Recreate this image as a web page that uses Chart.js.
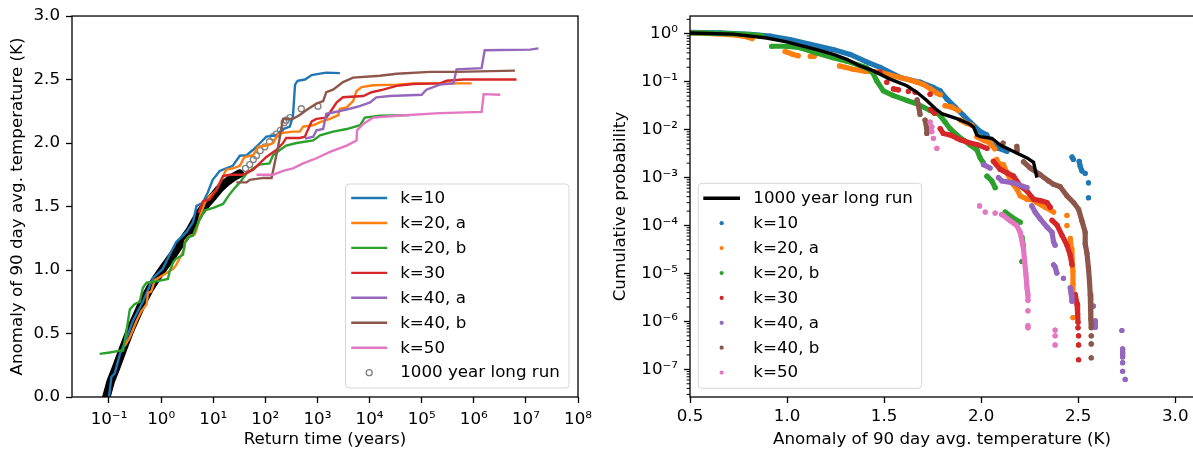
<!DOCTYPE html>
<html>
<head>
<meta charset="utf-8">
<script src="https://cdn.jsdelivr.net/npm/chart.js@4.4.1/dist/chart.umd.min.js"></script>
<style>
  html, body { margin: 0; padding: 0; background: #fff; overflow: hidden; }
  #figure { position: relative; width: 1193px; height: 455px; overflow: hidden; background: #fff; }
  #figure canvas { position: absolute; top: 0; }
  #returnChart { left: 0; }
  #cdfChart { left: 600px; }
</style>
</head>
<body>
<div id="figure">
  <canvas id="returnChart" width="600" height="455"></canvas>
  <canvas id="cdfChart" width="640" height="455"></canvas>
</div>
<script>
// ---------- shared labels and colours ----------
const seriesLabels = ['k=10', 'k=20, a', 'k=20, b', 'k=30', 'k=40, a', 'k=40, b', 'k=50'];
const seriesColors = ['#1f77b4', '#ff7f0e', '#2ca02c', '#d62728', '#9467bd', '#8c564b', '#e377c2'];
const longRunLabel = '1000 year long run';

// ---------- left panel: [log10 return time (years), anomaly (K)] ----------
const retK10 = [[-1.00,0.00],[-0.954,0.158],[-0.89,0.186],[-0.79,0.34],[-0.70,0.42],[-0.54,0.60],[-0.35,0.75],[-0.155,0.935],[0.03,1.01],[0.165,1.12],[0.29,1.22],[0.49,1.30],[0.61,1.375],[0.68,1.505],[0.80,1.53],[0.895,1.61],[0.99,1.71],[1.125,1.78],[1.25,1.80],[1.375,1.82],[1.51,1.90],[1.64,1.905],[1.76,1.945],[1.90,2.00],[2.02,2.05],[2.21,2.06],[2.34,2.11],[2.47,2.13],[2.53,2.21],[2.57,2.46],[2.62,2.49],[2.76,2.50],[2.89,2.535],[3.05,2.546],[3.17,2.554],[3.43,2.55]];
const retK20a = [[-0.70,0.40],[-0.60,0.47],[-0.47,0.60],[-0.38,0.675],[-0.28,0.73],[-0.25,0.82],[-0.19,0.83],[-0.12,0.92],[0.04,0.96],[0.23,1.01],[0.29,1.04],[0.39,1.12],[0.45,1.17],[0.46,1.23],[0.55,1.27],[0.645,1.28],[0.68,1.32],[0.71,1.36],[0.75,1.43],[0.84,1.53],[0.93,1.58],[1.06,1.63],[1.19,1.74],[1.25,1.79],[1.38,1.80],[1.51,1.82],[1.60,1.89],[1.765,1.905],[1.86,1.97],[2.02,1.98],[2.15,2.00],[2.245,2.07],[2.34,2.08],[2.53,2.09],[2.66,2.09],[2.725,2.13],[2.92,2.14],[3.05,2.165],[3.24,2.19],[3.40,2.22],[3.43,2.27],[3.56,2.28],[3.685,2.33],[3.75,2.41],[3.85,2.44],[4.07,2.455],[4.52,2.46],[4.84,2.47],[5.60,2.47],[5.96,2.47]];
const retK20b = [[-1.18,0.34],[-0.985,0.35],[-0.79,0.365],[-0.73,0.365],[-0.665,0.52],[-0.60,0.69],[-0.51,0.73],[-0.41,0.75],[-0.35,0.86],[-0.28,0.90],[-0.09,0.91],[0.13,0.93],[0.165,0.99],[0.23,1.06],[0.29,1.09],[0.42,1.12],[0.45,1.21],[0.52,1.26],[0.61,1.27],[0.68,1.34],[0.74,1.40],[0.84,1.47],[1.00,1.49],[1.19,1.52],[1.285,1.58],[1.38,1.63],[1.51,1.69],[1.64,1.76],[1.765,1.80],[1.89,1.83],[2.08,1.84],[2.15,1.905],[2.28,1.945],[2.40,1.98],[2.60,2.00],[2.92,2.02],[3.05,2.06],[3.30,2.09],[3.56,2.11],[3.82,2.14],[3.91,2.20],[4.20,2.215],[4.77,2.22]];
const retK30 = [[0.72,1.45],[0.80,1.54],[0.93,1.555],[1.06,1.63],[1.19,1.74],[1.32,1.75],[1.57,1.75],[1.765,1.79],[1.89,1.84],[2.02,1.89],[2.21,1.945],[2.34,2.00],[2.40,2.04],[2.66,2.04],[2.76,2.05],[2.79,2.08],[2.89,2.17],[2.98,2.19],[3.17,2.20],[3.24,2.24],[3.37,2.32],[3.49,2.36],[3.88,2.37],[4.04,2.40],[4.26,2.42],[4.52,2.45],[4.84,2.465],[5.35,2.47],[5.48,2.49],[5.80,2.50],[6.82,2.50]];
const retK40a = [[2.76,2.035],[2.92,2.05],[2.98,2.10],[3.11,2.11],[3.17,2.23],[3.30,2.24],[3.62,2.27],[3.81,2.29],[4.01,2.32],[4.13,2.36],[4.39,2.37],[5.00,2.38],[5.09,2.42],[5.35,2.46],[5.61,2.47],[5.67,2.58],[6.15,2.59],[6.21,2.73],[7.08,2.735],[7.24,2.745]];
const retK40b = [[1.445,1.69],[1.64,1.69],[1.70,1.71],[1.96,1.725],[2.12,1.725],[2.245,1.97],[2.34,2.19],[2.53,2.19],[2.66,2.22],[2.79,2.26],[2.98,2.31],[3.11,2.33],[3.17,2.40],[3.30,2.42],[3.49,2.48],[3.685,2.515],[4.20,2.53],[4.52,2.545],[5.16,2.56],[5.67,2.56],[6.79,2.57]];
const retK50 = [[1.83,1.75],[2.15,1.75],[2.34,1.78],[2.53,1.80],[2.725,1.84],[2.98,1.88],[3.24,1.93],[3.56,1.98],[3.75,2.02],[3.76,2.10],[3.88,2.15],[4.07,2.20],[4.52,2.215],[5.35,2.235],[6.15,2.245],[6.19,2.385],[6.51,2.38]];
// long run events: densely packed part, then the sparse upper tail
const longRunDense = [[-1.05,0.0],[-0.97,0.12],[-0.86,0.235],[-0.73,0.38],[-0.60,0.52],[-0.47,0.64],[-0.35,0.75],[-0.22,0.85],[-0.09,0.935],[0.07,1.03],[0.23,1.12],[0.39,1.22],[0.55,1.31],[0.74,1.45],[0.87,1.52],[1.0,1.58],[1.12,1.64],[1.25,1.69],[1.38,1.73],[1.51,1.76]];
const longRunSparse = [[1.62,1.80],[1.70,1.83],[1.77,1.87],[1.83,1.90],[1.90,1.94],[1.99,1.97],[2.08,2.01],[2.15,2.05],[2.21,2.07],[2.29,2.10],[2.36,2.16],[2.40,2.18],[2.47,2.20],[2.69,2.27],[3.01,2.29]];

const returnTickValues = [1e-1, 1e0, 1e1, 1e2, 1e3, 1e4, 1e5, 1e6, 1e7, 1e8];
const returnTickLabels = ['10⁻¹', '10⁰', '10¹', '10²', '10³', '10⁴', '10⁵', '10⁶', '10⁷', '10⁸'];
const anomalyTickValues = [0, 0.5, 1.0, 1.5, 2.0, 2.5, 3.0];
const anomalyTickLabels = ['0.0', '0.5', '1.0', '1.5', '2.0', '2.5', '3.0'];

// ---------- right panel: [anomaly (K), log10 cumulative probability]; null separates runs of dots ----------
const cdfLongRun = [[0.50,0.015],[0.723,-0.006],[0.895,-0.088],[0.998,-0.17],[1.067,-0.24],[1.153,-0.33],[1.239,-0.43],[1.308,-0.535],[1.376,-0.67],[1.445,-0.775],[1.531,-0.946],[1.617,-1.084],[1.669,-1.22],[1.72,-1.39],[1.763,-1.56],[1.797,-1.667],[1.875,-1.77],[1.935,-1.87],[1.96,-1.94],[1.978,-2.11],[1.995,-2.146],[2.055,-2.18],[2.098,-2.32],[2.167,-2.455],[2.236,-2.59],[2.27,-2.68],[2.287,-3.0]];
const cdfK10 = [[0.50,0.03],[0.655,0.02],[0.809,-0.01],[0.912,-0.05],[1.015,-0.12],[1.119,-0.22],[1.237,-0.33],[1.325,-0.43],[1.407,-0.58],[1.479,-0.70],[1.582,-0.91],[1.686,-1.01],[1.754,-1.12],[1.789,-1.19],[1.823,-1.36],[1.866,-1.53],[1.909,-1.70],[1.943,-1.84],[1.995,-2.04],[2.029,-2.11],[2.046,-2.28],[2.089,-2.39],[2.133,-2.45],null,[2.468,-2.57],[2.475,-2.62],null,[2.505,-2.66],[2.51,-2.76],[2.519,-2.86],null,[2.536,-2.91],null,[2.553,-3.11],null,[2.553,-3.42]];
const cdfK20a = [[0.50,0.02],[0.65,0.0],[0.74,-0.03],[0.79,-0.06],[0.82,-0.10],null,[0.99,-0.37],[1.005,-0.39],[1.03,-0.43],[1.057,-0.46],null,[1.12,-0.47],[1.14,-0.47],null,[1.27,-0.67],[1.30,-0.70],[1.34,-0.74],[1.40,-0.78],[1.479,-0.80],[1.531,-0.86],[1.582,-0.91],[1.63,-0.96],[1.669,-1.01],[1.703,-1.06],[1.74,-1.15],[1.772,-1.24],[1.789,-1.27],null,[1.814,-1.50],[1.849,-1.53],[1.883,-1.60],null,[1.892,-1.80],[1.926,-1.87],[1.952,-1.91],null,[1.978,-2.15],[2.012,-2.22],[2.046,-2.28],[2.07,-2.40],null,[2.08,-2.62],[2.089,-2.70],[2.115,-2.73],[2.133,-2.90],[2.158,-3.11],[2.184,-3.24],[2.201,-3.38],[2.236,-3.45],[2.27,-3.47],[2.287,-3.52],[2.33,-3.62],[2.373,-3.72],null,[2.442,-3.79],null,[2.442,-4.00],null,[2.459,-4.27],[2.464,-4.48],[2.468,-4.69],[2.473,-4.96],[2.473,-5.23],[2.473,-5.47],null,[2.473,-5.92]];
const cdfK20b = [[0.50,0.02],[0.655,0.01],[0.784,-0.01],[0.871,-0.04],null,[0.921,-0.26],[0.998,-0.26],[1.067,-0.29],[1.153,-0.40],[1.237,-0.50],[1.308,-0.57],[1.41,-0.71],[1.44,-0.80],[1.462,-0.98],[1.496,-1.19],[1.548,-1.29],[1.617,-1.39],[1.669,-1.46],[1.737,-1.60],[1.78,-1.67],[1.814,-1.84],[1.84,-1.98],[1.875,-2.11],[1.909,-2.22],[1.943,-2.32],[1.978,-2.42],[1.995,-2.59],[2.012,-2.70],null,[2.03,-2.97],[2.055,-3.07],[2.072,-3.21],null,[2.124,-3.72],[2.16,-3.83],[2.201,-3.93],null,[2.21,-4.24],[2.218,-4.44],null,[2.21,-4.75]];
const cdfK30 = [[1.479,-0.80],null,[1.514,-1.01],null,[1.548,-1.15],[1.574,-1.17],null,[1.625,-1.20],null,[1.66,-1.22],null,[1.737,-1.26],null,[1.74,-1.58],[1.76,-1.66],null,[1.789,-1.98],[1.805,-2.08],[1.84,-2.11],[1.875,-2.18],[1.892,-2.21],[1.943,-2.28],[1.978,-2.31],[2.03,-2.39],null,[2.063,-2.66],[2.098,-2.83],[2.133,-2.90],[2.167,-2.97],[2.201,-3.17],[2.236,-3.28],[2.27,-3.45],[2.304,-3.48],[2.339,-3.52],[2.356,-3.62],null,[2.365,-3.89],[2.391,-3.99],[2.416,-4.20],[2.442,-4.41],[2.459,-4.62],[2.468,-4.82],null,[2.485,-5.44],[2.494,-5.64],[2.497,-5.85],[2.499,-6.02],null,[2.499,-6.13],null,[2.502,-6.30],null,[2.502,-6.49],null,[2.502,-6.80]];
const cdfK40a = [[2.012,-2.73],[2.046,-2.80],null,[2.089,-3.00],[2.107,-3.07],[2.167,-3.11],[2.193,-3.15],[2.236,-3.21],null,[2.261,-3.59],[2.278,-3.72],[2.304,-3.86],[2.339,-4.03],[2.365,-4.14],[2.373,-4.34],[2.381,-4.41],null,[2.373,-4.82],[2.381,-4.86],[2.39,-4.99],null,[2.424,-5.10],null,[2.459,-5.30],[2.464,-5.43],[2.468,-5.58],null,[2.579,-5.68],null,[2.588,-5.99],[2.588,-6.12],null,[2.725,-6.19],null,[2.729,-6.57],[2.729,-6.66],[2.729,-6.74],null,[2.729,-6.86],null,[2.729,-7.04],null,[2.742,-7.21]];
const cdfK40b = [[1.67,-1.38],[1.68,-1.55],[1.685,-1.68],null,[1.711,-1.80],[1.72,-1.98],[1.72,-2.08],null,[2.113,-2.28],null,[2.184,-2.35],[2.185,-2.43],null,[2.218,-2.67],[2.253,-2.80],[2.304,-2.94],[2.347,-3.07],[2.373,-3.14],[2.407,-3.19],[2.442,-3.38],[2.476,-3.52],[2.502,-3.66],[2.519,-3.90],[2.536,-4.14],[2.536,-4.38],[2.545,-4.58],[2.553,-4.89],[2.558,-5.16],[2.562,-5.44],[2.565,-5.71],[2.565,-5.95],[2.567,-6.13],null,[2.567,-6.30],null,[2.567,-6.47],null,[2.567,-6.76]];
const cdfK50 = [[1.737,-1.84],null,[1.746,-1.94],null,[1.746,-2.04],null,[1.754,-2.18],null,[1.772,-2.39],null,[1.992,-3.59],null,[2.021,-3.72],null,[2.072,-3.74],null,[2.105,-3.77],[2.115,-3.79],[2.149,-3.90],[2.184,-4.00],[2.201,-4.14],[2.218,-4.48],[2.224,-4.75],[2.231,-5.03],[2.236,-5.30],[2.241,-5.44],[2.241,-5.56],null,[2.241,-5.78],null,[2.241,-6.09],[2.241,-6.13],null,[2.381,-6.18],null,[2.381,-6.30],null,[2.381,-6.49]];

const cdfTickValues = [0.5, 1.0, 1.5, 2.0, 2.5, 3.0];
const cdfTickLabels = ['0.5', '1.0', '1.5', '2.0', '2.5', '3.0'];
const probTickValues = [1e-7, 1e-6, 1e-5, 1e-4, 1e-3, 1e-2, 1e-1, 1e0];
const probTickLabels = ['10⁻⁷', '10⁻⁶', '10⁻⁵', '10⁻⁴', '10⁻³', '10⁻²', '10⁻¹', '10⁰'];

// ---------- helpers ----------
const toReturn = pts => pts.map(p => ({ x: Math.pow(10, p[0]), y: p[1] }));
const toCdf = pts => pts.map(p => p ? { x: p[0], y: Math.pow(10, p[1]) } : { x: null, y: null });

Chart.defaults.font.family = "'DejaVu Sans'";
Chart.defaults.font.size = 16.7;
Chart.defaults.color = '#000';

const FONT = "16.7px 'DejaVu Sans'";

// axes frame around the plotting area
const framePlugin = {
  id: 'frame',
  afterDatasetsDraw(chart) {
    const { ctx, chartArea: a } = chart;
    ctx.save();
    ctx.strokeStyle = '#000';
    ctx.lineWidth = 1.3;
    ctx.strokeRect(a.left, a.top, a.right - a.left, a.bottom - a.top);
    ctx.restore();
  }
};

function roundedBox(ctx, x, y, w, h, r) {
  ctx.beginPath();
  ctx.moveTo(x + r, y);
  ctx.lineTo(x + w - r, y);
  ctx.arcTo(x + w, y, x + w, y + r, r);
  ctx.lineTo(x + w, y + h - r);
  ctx.arcTo(x + w, y + h, x + w - r, y + h, r);
  ctx.lineTo(x + r, y + h);
  ctx.arcTo(x, y + h, x, y + h - r, r);
  ctx.lineTo(x, y + r);
  ctx.arcTo(x, y, x + r, y, r);
  ctx.closePath();
}

// in-axes legend box; entries carry label, colour and marker kind
function makeLegendPlugin(id, entries, box) {
  return {
    id,
    afterDraw(chart) {
      const { ctx, chartArea: a } = chart;
      const left = box.anchorRight ? a.right - box.dx - box.w : a.left + box.dx;
      const top = a.bottom - box.dy - box.h;
      ctx.save();
      roundedBox(ctx, left, top, box.w, box.h, 3.5);
      ctx.fillStyle = 'rgba(255,255,255,0.8)';
      ctx.fill();
      ctx.strokeStyle = 'rgba(204,204,204,0.8)';
      ctx.lineWidth = 1;
      ctx.stroke();
      entries.forEach((e, i) => {
        const y = top + box.first + i * box.step;
        const x0 = left + box.sampleStart, x1 = left + box.sampleEnd, xm = (x0 + x1) / 2;
        if (e.kind === 'line' || e.kind === 'thick') {
          ctx.beginPath();
          ctx.moveTo(x0, y);
          ctx.lineTo(x1, y);
          ctx.strokeStyle = e.color;
          ctx.lineWidth = e.kind === 'thick' ? 3.4 : 2.4;
          ctx.stroke();
        } else if (e.kind === 'ring') {
          ctx.beginPath();
          ctx.arc(xm, y, 3, 0, Math.PI * 2);
          ctx.strokeStyle = e.color;
          ctx.lineWidth = 1.3;
          ctx.stroke();
        } else {
          ctx.beginPath();
          ctx.arc(xm, y, 2.1, 0, Math.PI * 2);
          ctx.fillStyle = e.color;
          ctx.fill();
        }
        ctx.fillStyle = '#000';
        ctx.font = FONT;
        ctx.textAlign = 'left';
        ctx.textBaseline = 'middle';
        ctx.fillText(e.label, left + box.textX, y + 0.5);
      });
      ctx.restore();
    }
  };
}

// short minor ticks on the logarithmic probability axis
const minorTickPlugin = {
  id: 'minorTicks',
  afterDraw(chart) {
    const s = chart.scales.y, a = chart.chartArea, ctx = chart.ctx;
    ctx.save();
    ctx.strokeStyle = '#000';
    ctx.lineWidth = 1;
    for (let e = -9; e <= 1; e++) {
      for (let m = 2; m <= 9; m++) {
        const v = m * Math.pow(10, e);
        if (v < s.min || v > s.max) continue;
        const y = s.getPixelForValue(v);
        ctx.beginPath();
        ctx.moveTo(a.left - 3.4, y);
        ctx.lineTo(a.left, y);
        ctx.stroke();
      }
    }
    ctx.restore();
  }
};

const tickGrid = { display: true, drawOnChartArea: false, drawTicks: true, tickLength: 6, tickWidth: 1.3, tickColor: '#000' };

// ---------- left chart: anomaly vs return time ----------
const returnSeries = [retK10, retK20a, retK20b, retK30, retK40a, retK40b, retK50];
const returnDatasets = returnSeries.map((pts, i) => ({
  label: seriesLabels[i],
  data: toReturn(pts),
  showLine: true,
  borderColor: seriesColors[i],
  borderWidth: 2.4,
  pointRadius: 0,
  order: 7 - i
}));
const denseCount = longRunDense.length;
returnDatasets.push({
  label: longRunLabel,
  data: toReturn(longRunDense.concat(longRunSparse)),
  showLine: true,
  borderColor: '#000',
  borderWidth: 8.5,
  borderCapStyle: 'round',
  borderJoinStyle: 'round',
  segment: { borderColor: c => (c.p1DataIndex < denseCount ? '#000' : 'rgba(0,0,0,0)') },
  pointRadius: 3,
  pointBorderWidth: 1.3,
  pointBackgroundColor: 'rgba(0,0,0,0)',
  pointBorderColor: c => (c.dataIndex < denseCount ? '#000' : '#808080'),
  order: 10
});

const returnLegend = makeLegendPlugin('returnLegend',
  seriesLabels.map((l, i) => ({ label: l, color: seriesColors[i], kind: 'line' }))
    .concat([{ label: longRunLabel, color: '#808080', kind: 'ring' }]),
  { anchorRight: true, dx: 9, dy: 9, w: 223.5, h: 204, first: 14, step: 24.95, sampleStart: 5.7, sampleEnd: 41.7, textX: 54.7 });

new Chart(document.getElementById('returnChart'), {
  type: 'scatter',
  data: { datasets: returnDatasets },
  options: {
    responsive: false, animation: false, devicePixelRatio: 1, events: [],
    layout: { padding: { top: 11, right: 22, bottom: 0, left: 0 } },
    plugins: { legend: { display: false }, tooltip: { enabled: false } },
    scales: {
      x: {
        type: 'logarithmic',
        min: Math.pow(10, -1.71), max: 1e8,
        afterBuildTicks: s => { s.ticks = returnTickValues.map(v => ({ value: v })); },
        afterFit: s => { s.height = 58; },
        ticks: { autoSkip: false, maxRotation: 0, minRotation: 0, padding: 6.5, callback: (v, i) => returnTickLabels[i] },
        grid: tickGrid,
        border: { display: false },
        title: { display: true, text: 'Return time (years)', padding: { top: 0, bottom: 5 } }
      },
      y: {
        type: 'linear',
        min: 0, max: 3,
        afterBuildTicks: s => { s.ticks = anomalyTickValues.map(v => ({ value: v })); },
        afterFit: s => { s.width = 72; },
        ticks: { autoSkip: false, padding: 6, callback: (v, i) => anomalyTickLabels[i] },
        grid: tickGrid,
        border: { display: false },
        title: { display: true, text: 'Anomaly of 90 day avg. temperature (K)', padding: { top: 8, bottom: 0 } }
      }
    }
  },
  plugins: [framePlugin, returnLegend]
});

// ---------- right chart: cumulative probability vs anomaly ----------
const cdfSeries = [cdfK10, cdfK20a, cdfK20b, cdfK30, cdfK40a, cdfK40b, cdfK50];
const cdfDatasets = [{
  label: longRunLabel,
  data: toCdf(cdfLongRun),
  showLine: true,
  borderColor: '#000',
  borderWidth: 3.4,
  pointRadius: 0,
  order: 0
}].concat(cdfSeries.map((pts, i) => ({
  label: seriesLabels[i],
  data: toCdf(pts),
  showLine: true,
  spanGaps: false,
  borderColor: seriesColors[i],
  borderWidth: 5.2,
  borderCapStyle: 'round',
  borderJoinStyle: 'round',
  pointRadius: 2.6,
  pointBorderWidth: 0,
  pointBackgroundColor: seriesColors[i],
  order: 7 - i
})));

const cdfLegend = makeLegendPlugin('cdfLegend',
  [{ label: longRunLabel, color: '#000', kind: 'thick' }]
    .concat(seriesLabels.map((l, i) => ({ label: l, color: seriesColors[i], kind: 'dot' }))),
  { anchorRight: false, dx: 8.3, dy: 8.7, w: 223.4, h: 205, first: 15, step: 24.9, sampleStart: 5, sampleEnd: 41.7, textX: 55 });

const CDF_X_TITLE = 'Anomaly of 90 day avg. temperature (K)';

new Chart(document.getElementById('cdfChart'), {
  type: 'scatter',
  data: { datasets: cdfDatasets },
  options: {
    responsive: false, animation: false, devicePixelRatio: 1, events: [],
    layout: { padding: { top: 11, right: 43, bottom: 0, left: 0 } },
    plugins: { legend: { display: false }, tooltip: { enabled: false } },
    scales: {
      x: {
        type: 'linear',
        min: 0.5, max: 3.112,
        afterBuildTicks: s => { s.ticks = cdfTickValues.map(v => ({ value: v })); },
        afterFit: s => { s.height = 58; },
        ticks: { autoSkip: false, maxRotation: 0, minRotation: 0, padding: 3.7, callback: (v, i) => cdfTickLabels[i] },
        grid: tickGrid,
        border: { display: false },
        title: { display: false }
      },
      y: {
        type: 'logarithmic',
        min: Math.pow(10, -7.577), max: Math.pow(10, 0.3706),
        afterBuildTicks: s => { s.ticks = probTickValues.map(v => ({ value: v })); },
        afterFit: s => { s.width = 90; },
        ticks: { autoSkip: false, padding: 6, callback: (v, i) => probTickLabels[i] },
        grid: tickGrid,
        border: { display: false },
        title: { display: true, text: 'Cumulative probability', padding: { top: 11, bottom: 0 } }
      }
    }
  },
  plugins: [framePlugin, minorTickPlugin, cdfLegend, {
    // x-axis title centred under the plotting area
    id: 'cdfXTitle',
    afterDraw(chart) {
      const { ctx } = chart;
      const a = chart.chartArea;
      ctx.save();
      ctx.fillStyle = '#000';
      ctx.font = FONT;
      ctx.textAlign = 'center';
      ctx.textBaseline = 'middle';
      ctx.fillText(CDF_X_TITLE, (a.left + a.right) / 2 - 1.5, 440);
      ctx.restore();
    }
  }]
});
</script>
</body>
</html>
